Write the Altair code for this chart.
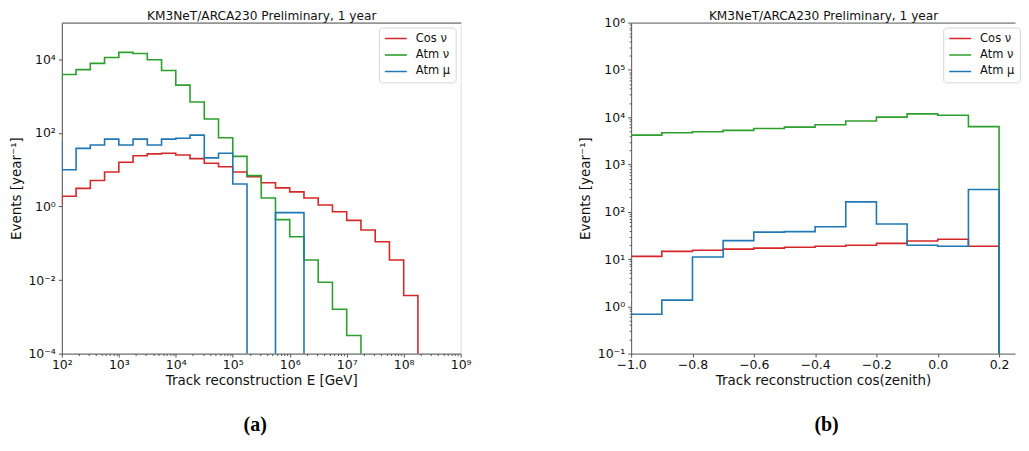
import altair as alt
import pandas as pd

SERIES = ["Cos ν", "Atm ν", "Atm μ"]
COLORS = ["#d62728", "#2ca02c", "#1f77b4"]
TITLE = "KM3NeT/ARCA230 Preliminary, 1 year"

# ---- panel (a): reconstructed energy, bin edges in log10(E/GeV)
E_LOG_EDGES = [1.75, 2.0, 2.25, 2.5, 2.75, 3.0, 3.25, 3.5, 3.75, 4.0, 4.25, 4.5,
               4.75, 5.0, 5.25, 5.5, 5.75, 6.0, 6.25, 6.5, 6.75, 7.0, 7.25, 7.5,
               7.75, 8.0, 8.25]
E_COS = [1.2, 1.9, 3.1, 5.1, 8.7, 16, 24, 27, 28, 25, 20, 15, 12, 8.7, 6.5, 4.4,
         3.2, 2.5, 1.7, 1.1, 0.72, 0.42, 0.23, 0.11, 0.035, 0.0038]
E_ATM_NU = [2880, 3890, 5250, 7760, 11200, 15500, 14500, 9800, 5000, 2000, 690,
            240, 74, 23, 6.9, 1.7, 0.44, 0.15, 0.035, 0.0087, 0.0016, 0.00031,
            0, 0, 0, 0]
E_ATM_MU = [55, 10, 38, 47, 68, 47, 68, 47, 68, 72, 87, 21, 28, 4.1, 0, 0, 0.68,
            0.68, 0, 0, 0, 0, 0, 0, 0, 0]
E_Y_TICKS = [1e-4, 1e-2, 1e0, 1e2, 1e4]

# ---- panel (b): reconstructed cos(zenith)
Z_EDGES = [-1.0, -0.9, -0.8, -0.7, -0.6, -0.5, -0.4, -0.3, -0.2, -0.1, 0.0, 0.1, 0.2]
Z_COS = [11.4, 14.5, 15.3, 16.2, 17.0, 17.8, 18.6, 19.5, 21.4, 24.0, 26.3, 18.6]
Z_ATM_NU = [4170, 4680, 4900, 5250, 5750, 6170, 6920, 8320, 10000, 11750, 10960, 6310]
Z_ATM_MU = [0.68, 1.35, 11.0, 24.5, 37, 38, 48, 162, 55, 19.5, 18.6, 295]
Z_X_TICKS = [-1.0, -0.8, -0.6, -0.4, -0.2, 0.0, 0.2]

FLOOR = 1e-9  # empty bins are drawn below the axis and clipped


def steps(edges, values, log_x):
    rows = []
    for name, vals in zip(SERIES, values):
        xs = [10 ** e for e in edges] if log_x else edges
        for i, v in enumerate(vals):
            rows.append({"x": xs[i], "v": v, "series": name})
        rows.append({"x": xs[-1], "v": 0, "series": name})
    df = pd.DataFrame(rows)
    df["y"] = df["v"].where(df["v"] > 0, FLOOR)
    return df


df_a = steps(E_LOG_EDGES, [E_COS, E_ATM_NU, E_ATM_MU], True)
df_b = steps(Z_EDGES, [Z_COS, Z_ATM_NU, Z_ATM_MU], False)

SPINE = "#555555"
FONT = "DejaVu Sans"
SUP = "['⁻⁴','⁻³','⁻²','⁻¹','⁰','¹','²','³','⁴','⁵','⁶','⁷','⁸','⁹']"
K = "round(log(datum.value)/LN10)"
IS_MAJOR = f"abs(log(datum.value)/LN10 - {K}) < 1e-6"
LOG_LABEL = f"{IS_MAJOR} ? '10' + {SUP}[{K}+4] : ''"
TICK_SIZE = {"condition": {"test": IS_MAJOR, "value": 3.5}, "value": 2}


def minor_values(lo, hi):
    vals = []
    for d in range(lo, hi):
        for k in range(1, 10):
            vals.append(k * 10.0 ** d)
    vals.append(10.0 ** hi)
    return vals


def axis(**kw):
    base = dict(grid=False, domainColor=SPINE, tickColor=SPINE, labelColor="#111",
                labelFont=FONT, labelFontSize=12.5, titleFont=FONT, titleFontSize=13.5,
                titleFontWeight="normal", titleColor="#111", labelOverlap=False,
                labelFlush=False)
    base.update(kw)
    return alt.Axis(**base)


def top_axis():
    # top spine carrying the panel title (placed like matplotlib's axes title)
    return alt.Axis(orient="top", labels=False, ticks=False, grid=False, domainColor=SPINE,
                    title=TITLE, titleFont=FONT, titleFontSize=12.2, titleFontWeight="normal",
                    titleColor="#111", titlePadding=0.5, minExtent=0, maxExtent=0, offset=0)


def legend(**kw):
    base = dict(title=None, fillColor="white", strokeColor="#d5d5d5", cornerRadius=3,
                padding=5, symbolType="stroke", symbolSize=484, symbolStrokeWidth=1.6,
                labelFont=FONT, labelFontSize=11.5, labelColor="#111", clipHeight=12,
                rowPadding=4.5, labelOffset=8)
    base.update(kw)
    return alt.Legend(**base)


H = 332
color_scale = alt.Scale(domain=SERIES, range=COLORS)

# ---- panel (a)
xa = alt.Scale(type="log", domain=[1e2, 1e9], nice=False)
lines_a = alt.Chart(df_a).mark_line(interpolate="step-after", clip=True, strokeWidth=1.6).encode(
    x=alt.X("x:Q", scale=xa,
            axis=axis(values=minor_values(2, 9), labelExpr=LOG_LABEL, tickSize=TICK_SIZE,
                      labelPadding=1, titlePadding=3, title="Track reconstruction E [GeV]")),
    y=alt.Y("y:Q", scale=alt.Scale(type="log", domain=[1e-4, 1e5], nice=False),
            axis=axis(values=E_Y_TICKS, labelExpr=LOG_LABEL, tickSize=3.5, labelPadding=3,
                      titlePadding=4.5, title="Events [year⁻¹]")),
    color=alt.Color("series:N", scale=color_scale, sort=SERIES,
                    legend=legend(orient="top-right", offset=5)),
)
top_a = alt.Chart(df_a).mark_point(opacity=0).encode(
    x=alt.X("x:Q", scale=xa, axis=top_axis()))
panel_a = (alt.layer(lines_a, top_a)
           .resolve_scale(x="independent")
           .resolve_axis(x="independent")
           .properties(width=400, height=H))

# ---- panel (b)
xb = alt.Scale(domain=[-1.0, 0.252], nice=False, zero=False)
lines_b = alt.Chart(df_b).mark_line(interpolate="step-after", clip=True, strokeWidth=1.6).encode(
    x=alt.X("x:Q", scale=xb,
            axis=axis(values=Z_X_TICKS, format=".1f", tickSize=3.5, labelPadding=1,
                      titlePadding=3, title="Track reconstruction cos(zenith)")),
    y=alt.Y("y:Q", scale=alt.Scale(type="log", domain=[1e-1, 1e6], nice=False),
            axis=axis(values=minor_values(-1, 6), labelExpr=LOG_LABEL, tickSize=TICK_SIZE,
                      labelPadding=3, titlePadding=4.5, title="Events [year⁻¹]")),
    color=alt.Color("series:N", scale=color_scale, sort=SERIES,
                    legend=legend(orient="none", legendX=313, legendY=5)),
)
top_b = alt.Chart(df_b).mark_point(opacity=0).encode(
    x=alt.X("x:Q", scale=xb, axis=top_axis()))
panel_b = (alt.layer(lines_b, top_b)
           .resolve_scale(x="independent")
           .resolve_axis(x="independent")
           .properties(width=385, height=H,
                       view=alt.ViewBackground(stroke="transparent")))


def caption(text, dx):
    return alt.TitleParams(text, orient="bottom", font="Liberation Serif", fontSize=20,
                           fontWeight="bold", color="#000", offset=28, anchor="middle",
                           dx=dx)


wrap_a = (alt.vconcat(panel_a, title=caption("(a)", 15))
          .resolve_scale(color="independent").resolve_legend(color="independent"))
wrap_b = (alt.vconcat(panel_b, title=caption("(b)", 27))
          .resolve_scale(color="independent").resolve_legend(color="independent"))

chart = (alt.hconcat(wrap_a, wrap_b, spacing=106)
         .resolve_scale(color="independent").resolve_legend(color="independent")
         .properties(padding={"left": 0, "top": 0, "right": 0, "bottom": 0})
         .configure_view(stroke=SPINE, strokeWidth=1)
         .configure(background="white"))

chart.save("out.html", embed_options={"renderer": "svg", "actions": False})
